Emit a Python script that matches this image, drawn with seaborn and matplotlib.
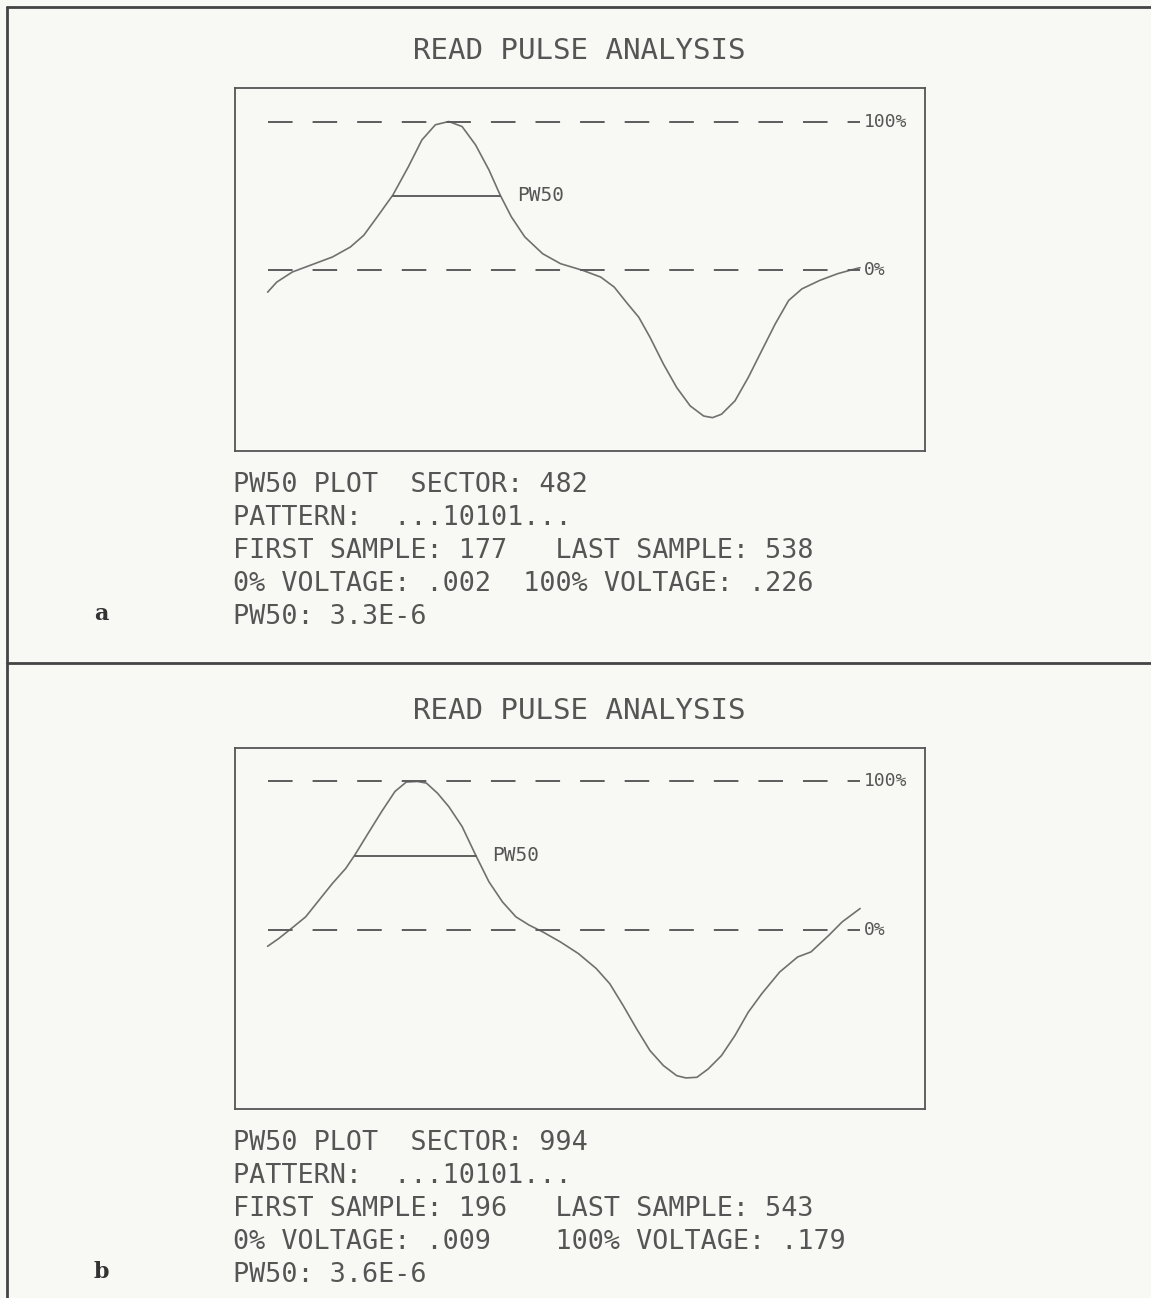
import matplotlib
matplotlib.use('Agg')
import matplotlib.pyplot as plt
import numpy as np
import pandas as pd
import seaborn as sns

sns.set_style('white')
plt.rcParams['font.family'] = ['DejaVu Sans Mono', 'DejaVu Sans']
plt.rcParams['lines.scale_dashes'] = False

# ---- panel a: sample index vs % of peak amplitude
a_sample = [177.0, 182.5, 192.0, 202.9, 216.5, 227.4, 235.6, 243.8, 253.3, 262.8,
            271.0, 279.2, 287.4, 295.5, 303.7, 311.9, 318.7, 325.5, 333.7, 344.6,
            355.5, 369.1, 380.0, 388.2, 396.4, 403.2, 410.0, 418.2, 426.3, 434.5,
            442.7, 448.1, 453.6, 461.8, 469.9, 478.1, 486.3, 494.5, 502.6, 513.5,
            524.4, 535.3, 538.0]
a_pct = [-14.6, -7.9, -1.1, 3.4, 9.0, 15.7, 23.6, 36.0, 50.6, 69.7,
         87.6, 97.8, 100.0, 96.6, 84.3, 67.4, 50.6, 36.0, 22.5, 11.2,
         4.5, 0.0, -4.5, -11.2, -22.5, -31.5, -44.9, -62.9, -78.7, -91.0,
         -97.8, -98.9, -96.6, -87.6, -71.9, -53.9, -36.0, -20.2, -12.4, -6.7,
         -2.2, 1.1, 1.8]
a_pw50 = [253.3, 318.7]
a_info = ['PW50 PLOT  SECTOR: 482',
          'PATTERN:  ...10101...',
          'FIRST SAMPLE: 177   LAST SAMPLE: 538',
          '0% VOLTAGE: .002  100% VOLTAGE: .226',
          'PW50: 3.3E-6']

# ---- panel b
b_sample = [196.0, 202.5, 210.4, 218.3, 226.1, 234.0, 241.8, 247.1, 254.9, 262.8,
            270.6, 277.2, 283.7, 289.0, 295.5, 302.1, 309.9, 317.8, 325.6, 333.5,
            341.4, 349.2, 357.1, 367.5, 378.0, 388.5, 396.4, 404.2, 412.1, 419.9,
            427.8, 435.6, 440.9, 447.4, 454.0, 461.8, 469.7, 477.5, 485.4, 495.9,
            506.4, 514.2, 524.7, 532.5, 543.0]
b_pct = [-10.8, -5.6, 1.6, 9.0, 20.2, 31.5, 41.6, 50.6, 65.2, 79.8,
         93.3, 99.6, 100.0, 98.9, 92.1, 83.1, 69.7, 50.6, 32.6, 19.1,
         9.0, 3.4, -1.1, -7.9, -15.7, -25.8, -36.0, -50.6, -66.3, -80.9,
         -91.0, -97.8, -99.3, -98.9, -93.3, -84.3, -70.8, -55.1, -42.7, -28.1,
         -18.0, -14.6, -3.4, 5.6, 14.6]
b_pw50 = [247.1, 317.8]
b_info = ['PW50 PLOT  SECTOR: 994',
          'PATTERN:  ...10101...',
          'FIRST SAMPLE: 196   LAST SAMPLE: 543',
          '0% VOLTAGE: .009    100% VOLTAGE: .179',
          'PW50: 3.6E-6']

levels = [100, 0]
level_labels = ['100%', '0%']
title = 'READ PULSE ANALYSIS'

BG = '#f8f8f4'
INK = '#555555'

W, H = 1151, 1298
fig = plt.figure(figsize=(W / 100, H / 100), dpi=100, facecolor=BG)

panels = [
    dict(sample=a_sample, pct=a_pct, pw50=a_pw50, info=a_info, letter='a',
         box=(88, 451), xlim=(157.1, 577.6), ylim=(-121.3, 122.5), top=0),
    dict(sample=b_sample, pct=b_pct, pw50=b_pw50, info=b_info, letter='b',
         box=(748, 1109), xlim=(176.9, 581.0), ylim=(-120.2, 122.5), top=660),
]

for p in panels:
    y0, y1 = p['box']
    ax = fig.add_axes([235 / W, 1 - y1 / H, 690 / W, (y1 - y0) / H])
    ax.set_facecolor(BG)
    df = pd.DataFrame({'sample': p['sample'], 'pct': p['pct']})
    sns.lineplot(data=df, x='sample', y='pct', ax=ax, color='#707070', lw=1.2)
    xs, xe = p['sample'][0], p['sample'][-1]
    for lev, lab in zip(levels, level_labels):
        ax.plot([xs, xe], [lev, lev], color='#5c5c5c', lw=1.4, ls=(0, (17.7, 14.4)))
        ax.annotate(lab, (xe, lev), xytext=(3, 0), textcoords='offset points',
                    va='center', ha='left', fontsize=13, color=INK)
    ax.plot(p['pw50'], [50, 50], color=INK, lw=1.3)
    ax.annotate('PW50', (p['pw50'][1], 50), xytext=(12, 0), textcoords='offset points',
                va='center', ha='left', fontsize=14, color=INK)
    ax.set_xlim(p['xlim'])
    ax.set_ylim(p['ylim'])
    ax.set_xticks([])
    ax.set_yticks([])
    ax.set_xlabel(None)
    ax.set_ylabel(None)
    for s in ax.spines.values():
        s.set_color(INK)
        s.set_linewidth(1.3)

    top = p['top']
    fig.text(579 / W, 1 - (top + 51) / H, title, ha='center', va='center',
             fontsize=21, color=INK)
    for i, line in enumerate(p['info']):
        fig.text(233 / W, 1 - (y1 + 34 + i * 33) / H, line, ha='left', va='center',
                 fontsize=19.3, color=INK)
    fig.text(101 / W, 1 - (y1 + 163) / H, p['letter'], ha='center', va='center',
             fontsize=16, fontweight='bold', family='DejaVu Serif', color='#333333')

# outer frame lines
frame = fig.add_axes([0, 0, 1, 1], facecolor='none')
frame.set_xlim(0, W)
frame.set_ylim(H, 0)
frame.axis('off')
frame.plot([7, W], [7, 7], color='#444444', lw=2)
frame.plot([7, W], [663, 663], color='#444444', lw=2)
frame.plot([7, 7], [7, H], color='#444444', lw=2)

fig.savefig('out.png', dpi=100, facecolor=BG)
